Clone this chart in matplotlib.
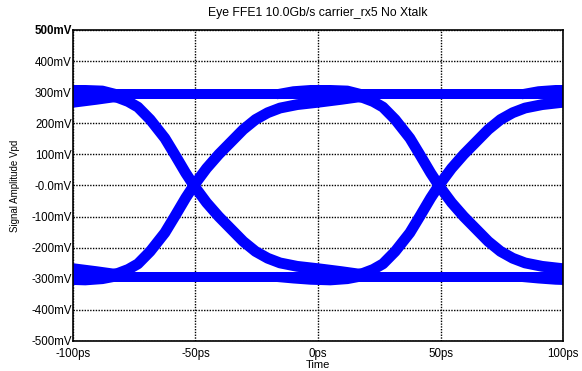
import matplotlib
matplotlib.use("Agg")
import matplotlib.pyplot as plt

# eye diagram: time in ps, amplitude in mV
crossings = [-150.5, -50.5, 49.5]      # zero crossings of the X
eye_centres = [-100, 0, 100]

# one transition, time relative to its crossing
edge_dt = [-40, -35, -31, -27, -23, -18, -12, -8, -3.5, 0, 5, 10, 15, 20, 25, 30, 35, 42, 51, 60, 70]
falling_mv = [293, 290, 282, 270, 252, 212, 152, 100, 40, -2, -55, -100, -140, -180, -212, -234, -249, -260, -268, -277, -288]
rising_mv = [-293, -290, -282, -270, -252, -212, -152, -100, -40, 2, 55, 100, 140, 180, 212, 234, 249, 260, 268, 277, 288]

# settled levels
level_t = [-100, 100]
high_mv = [293, 293]
low_mv = [-294, -294]

# extra spread of the settled levels around the eye centre
bulge_dt = [-17, -10, -3, 5, 12, 18]
high_bulge_mv = [293, 303, 307, 307, 305, 293]
low_bulge_mv = [-294, -299, -303, -305, -301, -292]

yticks = [500, 400, 300, 200, 100, 0, -100, -200, -300, -400, -500]
ylabels = ["500mV", "400mV", "300mV", "200mV", "100mV", "-0.0mV",
           "-100mV", "-200mV", "-300mV", "-400mV", "-500mV"]
xticks = [-100, -50, 0, 50, 100]
xlabels = ["-100ps", "-50ps", "0ps", "50ps", "100ps"]

plt.rcParams["font.family"] = ["Liberation Sans", "DejaVu Sans"]

fig = plt.figure(figsize=(5.82, 3.71), dpi=100)
ax = fig.add_axes([0.1254, 0.0809, 0.8420, 0.8383])

blue = "#0000ff"
lw_level = 7.2
lw_edge = 7.8

ax.plot(level_t, high_mv, color=blue, lw=lw_level, solid_capstyle="butt")
ax.plot(level_t, low_mv, color=blue, lw=lw_level, solid_capstyle="butt")

for c in eye_centres:
    ax.plot([c + d for d in bulge_dt], high_bulge_mv, color=blue, lw=lw_level, solid_capstyle="butt")
    ax.plot([c + d for d in bulge_dt], low_bulge_mv, color=blue, lw=lw_level, solid_capstyle="butt")

for c in crossings:
    t = [c + d for d in edge_dt]
    ax.plot(t, falling_mv, color=blue, lw=lw_edge, solid_capstyle="butt", solid_joinstyle="round")
    ax.plot(t, rising_mv, color=blue, lw=lw_edge, solid_capstyle="butt", solid_joinstyle="round")

ax.set_xlim(-100, 100)
ax.set_ylim(-500, 500)
ax.set_xticks(xticks)
ax.set_xticklabels(xlabels, fontsize=8.3)
ax.set_yticks(yticks)
ax.set_yticklabels(ylabels, fontsize=8.3)
ax.get_yticklabels()[0].set_fontweight("bold")
ax.tick_params(axis="y", length=0, pad=1)
ax.tick_params(axis="x", length=0, pad=5)
ax.set_axisbelow(True)
ax.grid(True, color="black", linestyle=(0, (1, 1)), linewidth=1.0)
for s in ax.spines.values():
    s.set_linewidth(1.2)

ax.set_xlabel("Time", fontsize=8, labelpad=0.3)
ax.set_ylabel("Signal Amplitude Vpd", fontsize=7, labelpad=8)
ax.set_title("Eye FFE1 10.0Gb/s carrier_rx5 No Xtalk", fontsize=8.8, pad=10)

fig.savefig("out.png", dpi=100)
